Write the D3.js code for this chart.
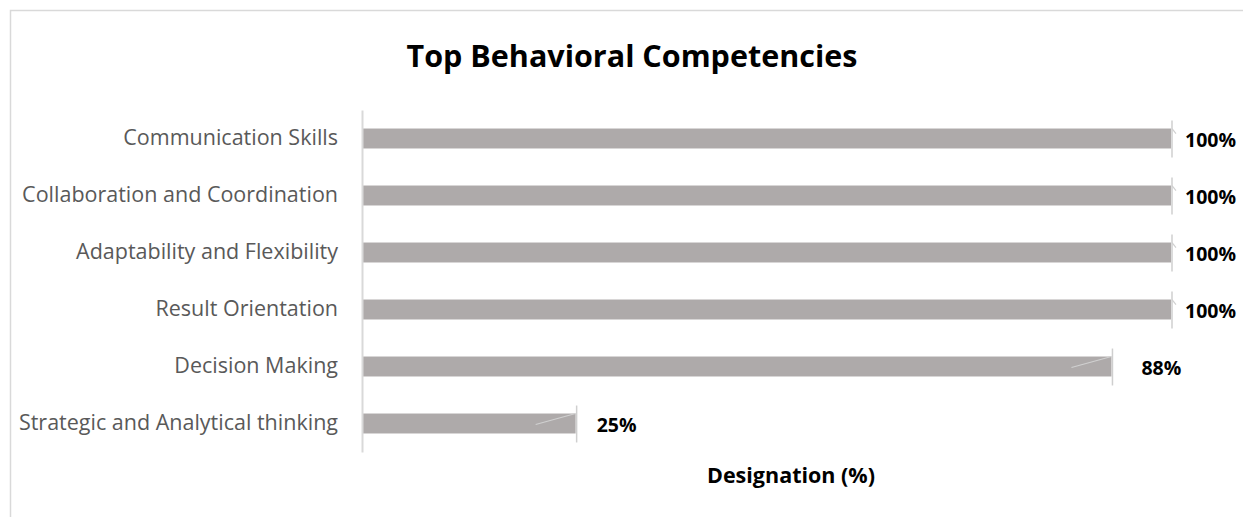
<!DOCTYPE html>
<html lang="en">
<head>
    <meta charset="utf-8">
    <title>Top Behavioral Competencies</title>
    <style>
        body {
            margin: 0;
            background: #fff;
            font-family: "Open Sans", sans-serif;
        }
    </style>
</head>
<body>
<svg class="chart"></svg>
<script src="https://d3js.org/d3.v7.min.js"></script>
<script>
    // data
    const categories = ["Communication Skills", "Collaboration and Coordination", "Adaptability and Flexibility",
        "Result Orientation", "Decision Making", "Strategic and Analytical thinking"];
    const values = [100, 100, 100, 100, 88, 25];
    const labelGap = [14, 14, 14, 14, 30, 21]; // data labels were nudged by hand
    const axisMax = 95; // plot area ends before 100, long bars get cut
    const title = "Top Behavioral Competencies";
    const axisTitle = "Designation (%)";

    const width = 1243, height = 517;
    const margin = {top: 110, right: 72, bottom: 65, left: 363};

    const svg = d3.select(".chart")
        .attr("width", width)
        .attr("height", height);

    // outer chart frame
    svg.append("rect")
        .attr("x", 10.5).attr("y", 10.5)
        .attr("width", width).attr("height", height)
        .style("fill", "none")
        .style("stroke", "#d9d9d9")
        .style("stroke-width", 1.5);

    const x = d3.scaleLinear()
        .domain([0, axisMax])
        .range([margin.left, width - margin.right])
        .clamp(true);
    const y = d3.scaleBand()
        .domain(categories)
        .range([margin.top, height - margin.bottom])
        .paddingInner(0.65)
        .paddingOuter(0.325);

    svg.append("text")
        .attr("x", 632)
        .attr("y", 67)
        .attr("text-anchor", "middle")
        .style("font-size", "30.5px")
        .style("font-weight", "bold")
        .style("fill", "#000")
        .text(title);

    var bar = svg.selectAll(".bar")
        .data(categories)
        .enter().append("g")
        .attr("class", "bar");

    bar.append("rect")
        .attr("x", x(0))
        .attr("y", function(d) { return y(d); })
        .attr("width", function(d, i) { return x(values[i]) - x(0); })
        .attr("height", y.bandwidth())
        .style("fill", "#aeaaaa");

    // marker line at the end of every bar
    bar.append("line")
        .attr("x1", function(d, i) { return x(values[i]) + 1; })
        .attr("x2", function(d, i) { return x(values[i]) + 1; })
        .attr("y1", function(d) { return y(d) - 8; })
        .attr("y2", function(d) { return y(d) + y.bandwidth() + 9; })
        .style("stroke", "#cfcfcf")
        .style("stroke-width", 1.5);

    // leader lines
    bar.append("line")
        .attr("x1", function(d, i) { return values[i] > axisMax ? x(values[i]) + 1 : x(values[i]) - 40; })
        .attr("x2", function(d, i) { return values[i] > axisMax ? x(values[i]) + 5 : x(values[i]); })
        .attr("y1", function(d, i) { return values[i] > axisMax ? y(d) : y(d) + y.bandwidth() / 2 + 1; })
        .attr("y2", function(d, i) { return values[i] > axisMax ? y(d) + 5 : y(d); })
        .style("stroke", "#d0d0d0")
        .style("stroke-width", 1.2);

    bar.append("text")
        .attr("x", function(d, i) { return x(values[i]) + labelGap[i]; })
        .attr("y", function(d) { return y(d) + y.bandwidth() / 2 + 1; })
        .attr("dy", "0.36em")
        .style("font-size", "19.5px")
        .style("font-weight", "bold")
        .style("fill", "#000")
        .text(function(d, i) { return values[i] + "%"; });

    const yAxis = d3.axisLeft(y).tickSize(0).tickPadding(24);
    const gy = svg.append("g")
        .attr("transform", "translate(" + (margin.left - 1) + ",0)")
        .call(yAxis);
    gy.select(".domain")
        .style("stroke", "#d9d9d9")
        .style("stroke-width", 2);
    gy.selectAll("text")
        .style("font-family", "Open Sans, sans-serif")
        .style("font-size", "21.5px")
        .style("fill", "#595959");

    svg.append("text")
        .attr("x", 791)
        .attr("y", 483)
        .attr("text-anchor", "middle")
        .style("font-size", "21.5px")
        .style("font-weight", "bold")
        .style("fill", "#000")
        .text(axisTitle);
</script>
</body>
</html>
